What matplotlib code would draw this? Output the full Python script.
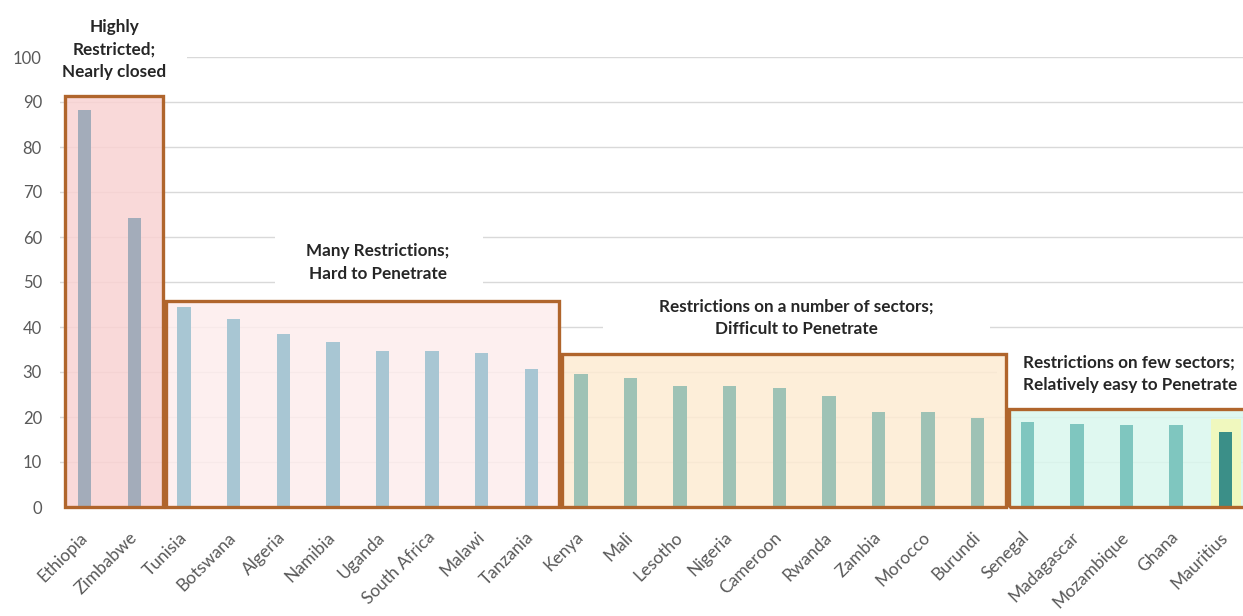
import matplotlib
matplotlib.use("Agg")
import matplotlib.pyplot as plt
from matplotlib.patches import Rectangle

plt.rcParams["font.family"] = ["Lato", "DejaVu Sans"]

countries = ["Ethiopia", "Zimbabwe", "Tunisia", "Botswana", "Algeria", "Namibia",
             "Uganda", "South Africa", "Malawi", "Tanzania", "Kenya", "Mali",
             "Lesotho", "Nigeria", "Cameroon", "Rwanda", "Zambia", "Morocco",
             "Burundi", "Senegal", "Madagascar", "Mozambique", "Ghana", "Mauritius"]
scores = [88.2, 64.2, 44.4, 41.7, 38.4, 36.7, 34.7, 34.7, 34.2, 30.7,
          29.5, 28.6, 26.9, 26.9, 26.4, 24.7, 21.1, 21.1, 19.8,
          18.8, 18.4, 18.3, 18.3, 16.6]

# groups: first index, last index, box height, label
group_first = [0, 2, 10, 19]
group_last = [1, 9, 18, 23]
group_top = [91.4, 45.8, 34.0, 21.8]
group_labels = ["Highly\nRestricted;\nNearly closed",
                "Many Restrictions;\nHard to Penetrate",
                "Restrictions on a number of sectors;\nDifficult to Penetrate",
                "Restrictions on few sectors;\nRelatively easy to Penetrate"]

bar_colors = ["#A3ACBA", "#A8C6D3", "#9EC2B5", "#7FC6BF"]
box_fills = ["#F9D3D3", "#FDEDED", "#FDEBD3", "#DAF7EE"]
edge_color = "#B0652C"
highlight_country = "Mauritius"
highlight_color = "#3B8F88"

fig = plt.figure(figsize=(12.43, 6.16), dpi=100)
ax = fig.add_axes([60 / 1243, 109 / 616, 1183 / 1243, 450 / 616])
ax.set_xlim(-0.5, 23.35)
ax.set_ylim(0, 100)

# horizontal gridlines
for v in range(10, 101, 10):
    ax.axhline(v, color="#D9D9D9", lw=1.0, zorder=0.5)

# white gaps in the grid behind the group labels
masks = [(-0.5, 92.5, 2.56, 18), (3.83, 47.0, 4.19, 18), (10.44, 35.5, 7.81, 12.5),
         (18.4, 22.5, 5.2, 14.5)]
for x0, y0, w, h in masks:
    ax.add_patch(Rectangle((x0, y0), w, h, facecolor="white", edgecolor="none",
                           zorder=0.8, clip_on=False))

bar_w = 0.27
for g in range(4):
    a, b = group_first[g], group_last[g]
    left = a - 0.40 if g == 0 else a - 0.37
    right = b + 0.57 if g < 3 else b + 1.0
    ax.add_patch(Rectangle((left, 0), right - left, group_top[g],
                           facecolor=box_fills[g], edgecolor="none", alpha=0.85,
                           zorder=1, clip_on=False))
    ax.add_patch(Rectangle((left, 0), right - left, group_top[g],
                           facecolor="none", edgecolor=edge_color, lw=2.4,
                           zorder=4, clip_on=False))
    idx = list(range(a, b + 1))
    cols = [highlight_color if countries[i] == highlight_country else bar_colors[g]
            for i in idx]
    ax.bar(idx, [scores[i] for i in idx], width=bar_w, color=cols, zorder=3)

# soft highlight behind the highlighted bar
hi = countries.index(highlight_country)
ax.add_patch(Rectangle((hi - 0.3, 0), 0.6, scores[hi] + 2.9, facecolor="#F0F8BE",
                       edgecolor="none", zorder=1.5))

label_kw = dict(fontsize=12.3, fontweight="bold", color="#262626", zorder=5,
                linespacing=1.5, clip_on=False)
ax.text(0.6, 101.6, group_labels[0], ha="center", va="center", **label_kw)
ax.text(5.91, 54.3, group_labels[1], ha="center", va="center", **label_kw)
ax.text(14.35, 42.1, group_labels[2], ha="center", va="center", **label_kw)
ax.text(18.91, 29.7, group_labels[3], ha="left", va="center", **label_kw)

ax.set_yticks(range(0, 101, 10))
ax.tick_params(axis="y", length=0, pad=13, labelsize=12, labelcolor="#595959")
ax.set_xticks(range(len(countries)))
ax.set_xticklabels(countries, rotation=45, ha="right", va="center",
                   rotation_mode="anchor", fontsize=12.5, color="#595959")
ax.tick_params(axis="x", length=0, pad=20)
for s in ax.spines.values():
    s.set_visible(False)

fig.savefig("out.png", dpi=100)
